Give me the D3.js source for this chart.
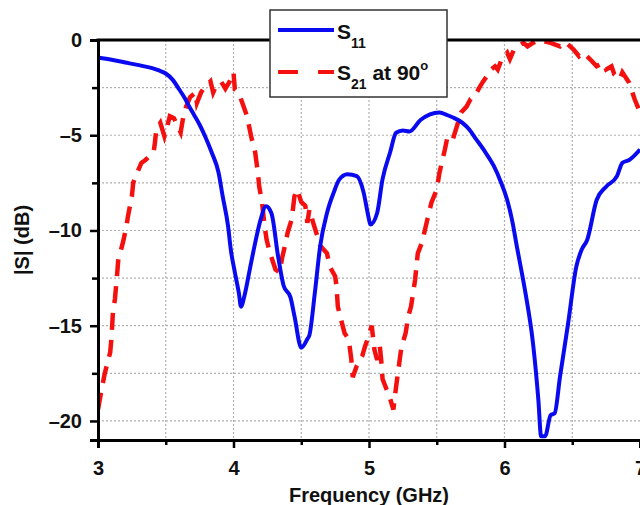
<!DOCTYPE html>
<html>
<head>
<meta charset="utf-8">
<script src="https://cdn.jsdelivr.net/npm/d3@7"></script>
<style>
	body { margin: 0; background: #fff; }
	svg { display: block; font-family: "Liberation Sans", Arial, sans-serif; font-weight: bold; }
</style>
</head>
<body>
<svg></svg>
<script>

// tick values
var xMajor = [3, 4, 5, 6, 7];
var xMinor = [3.5, 4.5, 5.5, 6.5];
var yMajor = [0, -5, -10, -15, -20];
var yMinor = [-2.5, -7.5, -12.5, -17.5];

// S11
var s11Freq = [3.00, 3.10, 3.20, 3.30, 3.40, 3.45, 3.50, 3.55, 3.60, 3.64, 3.67, 3.71, 3.75, 3.79, 3.84, 3.89,
	3.92, 3.96, 3.98, 4.01, 4.04, 4.055, 4.08, 4.12, 4.16, 4.20, 4.24, 4.28, 4.33, 4.37, 4.42, 4.45,
	4.50, 4.545, 4.56, 4.60, 4.64, 4.69, 4.74, 4.78, 4.84, 4.91, 4.96, 4.995, 5.01, 5.06, 5.10, 5.155,
	5.20, 5.25, 5.30, 5.38, 5.45, 5.52, 5.58, 5.62, 5.69, 5.74, 5.79, 5.85, 5.92, 5.97, 6.02, 6.06,
	6.09, 6.13, 6.16, 6.21, 6.25, 6.27, 6.30, 6.34, 6.37, 6.41, 6.47, 6.53, 6.57, 6.61, 6.68, 6.75,
	6.83, 6.87, 6.92, 7.00];
var s11Db = [-0.92, -1.04, -1.18, -1.32, -1.48, -1.6, -1.76, -2.08, -2.6, -3.05, -3.45, -3.95, -4.45, -5.05, -5.92, -6.97,
	-8.2, -9.78, -11.0, -12.2, -13.3, -14.0, -13.45, -12.05, -10.65, -9.43, -8.73, -9.1, -11.4, -12.9, -13.5, -14.5,
	-16.15, -15.7, -15.5, -13.3, -10.8, -9.08, -8.0, -7.33, -7.05, -7.15, -8.0, -9.25, -9.69, -9.08, -7.3, -5.92,
	-4.87, -4.75, -4.8, -4.2, -3.9, -3.8, -3.95, -4.07, -4.35, -4.7, -5.2, -5.8, -6.6, -7.4, -8.4, -9.6,
	-10.8, -12.3, -13.5, -15.9, -18.9, -20.8, -20.8, -19.7, -19.6, -17.66, -14.85, -11.9, -11.0, -10.5, -8.4, -7.7,
	-7.15, -6.45, -6.3, -5.75];

// S21 at 90 deg (it is noisy)
var s21Freq = [3.00, 3.02, 3.05, 3.09, 3.10, 3.11, 3.125, 3.14, 3.15, 3.17, 3.185, 3.21, 3.22, 3.25, 3.26,
	3.27, 3.32, 3.35, 3.41, 3.42, 3.43, 3.46, 3.49, 3.51, 3.53, 3.56, 3.61, 3.63, 3.65, 3.68, 3.72,
	3.73, 3.76, 3.79, 3.83, 3.85, 3.87, 3.91, 3.94, 3.97, 4.00, 4.01, 4.04, 4.07, 4.10, 4.13, 4.16,
	4.18, 4.19, 4.21, 4.23, 4.245, 4.27, 4.31, 4.34, 4.36, 4.38, 4.40, 4.43, 4.45, 4.47, 4.50, 4.53,
	4.545, 4.56, 4.58, 4.61, 4.64, 4.69, 4.71, 4.75, 4.76, 4.77, 4.80, 4.82, 4.85, 4.87, 4.88, 4.91,
	4.95, 4.97, 4.99, 5.02, 5.04, 5.06, 5.08, 5.09, 5.10, 5.13, 5.15, 5.18, 5.20, 5.23, 5.24, 5.27,
	5.29, 5.31, 5.34, 5.36, 5.39, 5.43, 5.46, 5.50, 5.52, 5.56, 5.58, 5.62, 5.65, 5.68, 5.72, 5.75,
	5.78, 5.82, 5.84, 5.87, 5.90, 5.93, 5.95, 5.98, 6.02, 6.04, 6.07, 6.10, 6.14, 6.17, 6.21, 6.26,
	6.34, 6.41, 6.45, 6.51, 6.55, 6.58, 6.63, 6.68, 6.73, 6.75, 6.79, 6.81, 6.85, 6.87, 6.92, 6.96,
	7.00];
var s21Db = [-19.4, -18.6, -17.5, -16.4, -15.6, -14.3, -13.6, -12.4, -11.5, -11.0, -10.6, -9.8, -9.3, -8.2, -7.5,
	-7.3, -6.45, -6.3, -5.9, -5.4, -4.7, -4.35, -5.05, -4.55, -4.0, -4.1, -4.85, -4.0, -3.5, -3.0, -2.76,
	-3.3, -2.76, -2.43, -2.17, -2.76, -2.44, -2.2, -2.55, -2.2, -1.7, -2.6, -2.8, -3.4, -4.0, -5.05, -5.9,
	-6.97, -7.7, -8.5, -9.8, -10.5, -11.2, -12.05, -12.2, -11.4, -10.8, -10.1, -9.4, -8.2, -7.85, -8.5, -8.7,
	-9.6, -8.9, -9.4, -10.1, -10.8, -11.2, -11.9, -12.4, -12.9, -14.0, -14.85, -15.4, -15.7, -16.8, -17.7, -17.1,
	-16.6, -16.1, -15.7, -15.0, -16.25, -16.8, -16.1, -16.8, -17.8, -18.35, -18.7, -19.4, -18.2, -16.6, -16.1, -15.4,
	-14.5, -14.0, -12.6, -11.2, -10.65, -9.45, -8.55, -7.85, -6.97, -5.75, -5.05, -5.2, -4.5, -3.8, -3.5, -3.1,
	-2.95, -2.43, -2.2, -1.9, -1.55, -1.38, -1.55, -1.0, -0.67, -1.0, -0.5, -0.34, -0.15, -0.34, -0.15, 0,
	-0.15, -0.34, -0.1, -0.5, -0.85, -0.67, -1.0, -1.38, -1.2, -1.55, -1.38, -1.8, -2.07, -1.7, -2.25, -3.1,
	-3.8];

var CONF = {
	width: 640,
	height: 505,
	left: 98,
	right: 640,
	top: 40,
	bottom: 440
};

function drawChart() {
	var svg = d3.select('svg')
		.attr('width', CONF.width)
		.attr('height', CONF.height);

	var x = d3.scaleLinear().domain([3, 7]).range([CONF.left, CONF.right]);
	var y = d3.scaleLinear().domain([-21, 0]).range([CONF.bottom, CONF.top]);

	var fmt = function(d) { return d < 0 ? '\u2013' + Math.abs(d) : '' + d; };

	// dotted grid
	var grid = svg.append('g')
		.style('stroke', '#b0b0b0')
		.style('stroke-width', 1.2)
		.style('stroke-dasharray', '2,2');

	grid.selectAll('line.vg')
		.data(xMajor.concat(xMinor).filter(function(d) { return d > 3 && d < 7; }))
		.enter().append('line')
			.attr('class', 'vg')
			.attr('x1', function(d) { return x(d); }).attr('x2', function(d) { return x(d); })
			.attr('y1', CONF.top).attr('y2', CONF.bottom);

	grid.selectAll('line.hg')
		.data(yMajor.concat(yMinor).filter(function(d) { return d < 0; }))
		.enter().append('line')
			.attr('class', 'hg')
			.attr('x1', CONF.left).attr('x2', CONF.right)
			.attr('y1', function(d) { return y(d); }).attr('y2', function(d) { return y(d); });

	// the curves, clipped to the plot
	svg.append('clipPath').attr('id', 'plot-clip')
		.append('rect')
			.attr('x', CONF.left).attr('y', CONF.top - 3)
			.attr('width', CONF.right - CONF.left).attr('height', CONF.bottom - CONF.top + 3);

	var line = d3.line()
		.x(function(d) { return x(d[0]); })
		.y(function(d) { return y(d[1]); });

	var curves = svg.append('g').attr('clip-path', 'url(#plot-clip)');

	curves.append('path')
		.datum(d3.zip(s21Freq, s21Db))
		.attr('d', line)
		.style('fill', 'none')
		.style('stroke', '#f51010')
		.style('stroke-width', 4.5)
		.style('stroke-dasharray', '17,10');

	curves.append('path')
		.datum(d3.zip(s11Freq, s11Db))
		.attr('d', line.curve(d3.curveMonotoneX))
		.style('fill', 'none')
		.style('stroke', '#0a0af0')
		.style('stroke-width', 4)
		.style('stroke-linejoin', 'round');

	// axes
	svg.append('g')
		.attr('transform', 'translate(0,' + CONF.bottom + ')')
		.call(d3.axisBottom(x).tickValues(xMajor).tickFormat(fmt).tickSize(8).tickPadding(13));
	svg.append('g')
		.attr('transform', 'translate(0,' + CONF.bottom + ')')
		.call(d3.axisBottom(x).tickValues(xMinor).tickFormat('').tickSize(5))
		.select('.domain').remove();

	svg.append('g')
		.attr('transform', 'translate(' + CONF.left + ',0)')
		.call(d3.axisLeft(y).tickValues(yMajor).tickFormat(fmt).tickSize(8).tickPadding(8));
	svg.append('g')
		.attr('transform', 'translate(' + CONF.left + ',0)')
		.call(d3.axisLeft(y).tickValues(yMinor).tickFormat('').tickSize(6))
		.select('.domain').remove();

	svg.selectAll('.domain').style('stroke', '#000').style('stroke-width', 3);
	svg.selectAll('.tick line').style('stroke', '#000').style('stroke-width', 2.5);
	svg.selectAll('.tick text')
		.style('font-family', '"Liberation Sans", Arial, sans-serif')
		.style('font-weight', 'bold')
		.style('font-size', '20px')
		.style('fill', '#111');

	// top frame line
	svg.append('line')
		.attr('x1', CONF.left - 1.5).attr('x2', CONF.right)
		.attr('y1', CONF.top).attr('y2', CONF.top)
		.style('stroke', '#000')
		.style('stroke-width', 3);

	// axis titles
	svg.append('text')
		.attr('x', 369)
		.attr('y', 502)
		.attr('text-anchor', 'middle')
		.style('font-size', '20px')
		.style('fill', '#111')
		.text('Frequency (GHz)');

	svg.append('text')
		.attr('transform', 'translate(29,' + 240 + ') rotate(-90)')
		.attr('text-anchor', 'middle')
		.style('font-size', '20px')
		.style('fill', '#111')
		.text('|S| (dB)');

	// legend
	var legend = svg.append('g');

	legend.append('rect')
		.attr('x', 270).attr('y', 10)
		.attr('width', 177).attr('height', 87)
		.style('fill', '#fff')
		.style('stroke', '#333')
		.style('stroke-width', 1.5);

	legend.append('line')
		.attr('x1', 278).attr('x2', 334)
		.attr('y1', 30).attr('y2', 30)
		.style('stroke', '#0a0af0')
		.style('stroke-width', 4);

	legend.append('line')
		.attr('x1', 278).attr('x2', 334)
		.attr('y1', 72).attr('y2', 72)
		.style('stroke', '#f51010')
		.style('stroke-width', 4)
		.style('stroke-dasharray', '20,20');

	var t1 = legend.append('text')
		.attr('x', 337).attr('y', 39)
		.style('font-size', '21px')
		.style('fill', '#111');
	t1.append('tspan').text('S');
	t1.append('tspan').attr('dy', 9).style('font-size', '14px').text('11');

	var t2 = legend.append('text')
		.attr('x', 337).attr('y', 80)
		.style('font-size', '21px')
		.style('fill', '#111');
	t2.append('tspan').text('S');
	t2.append('tspan').attr('dy', 9).style('font-size', '14px').text('21');
	t2.append('tspan').attr('dy', -9).text(' at 90');
	t2.append('tspan').attr('dy', -10).style('font-size', '13px').text('o');
}

drawChart();
</script>
</body>
</html>
